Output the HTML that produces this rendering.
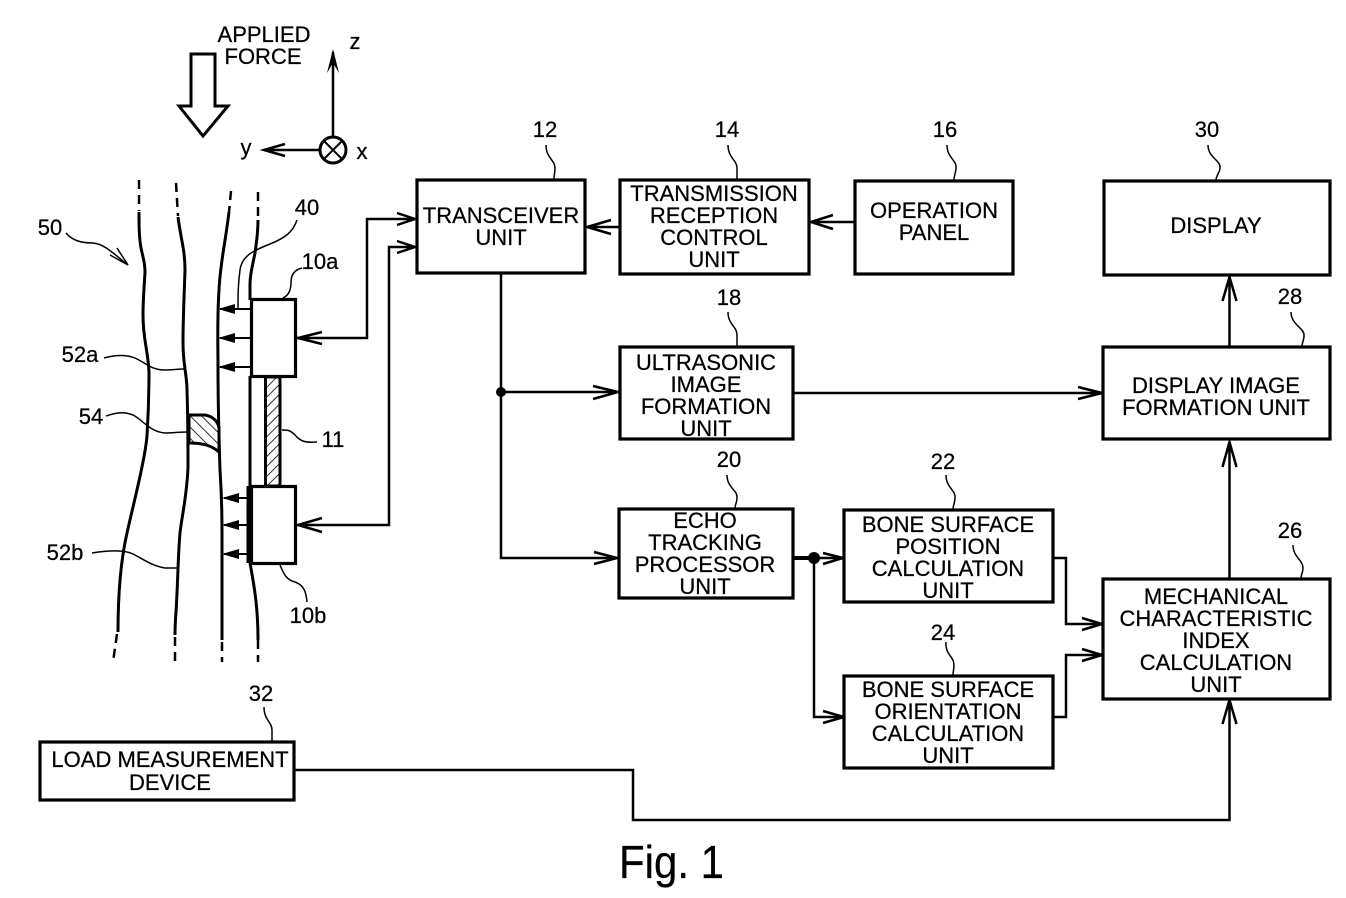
<!DOCTYPE html>
<html><head><meta charset="utf-8"><style>
html,body{margin:0;padding:0;background:#fff}
svg{display:block}
text{font-family:"Liberation Sans",sans-serif;fill:#000;stroke:#000;stroke-width:.25}
.t{font-size:22px;text-anchor:middle}
.n{font-size:22px;text-anchor:middle}
.b{fill:#fff;stroke:#000;stroke-width:3.2}
.l{fill:none;stroke:#000;stroke-width:2.5}
.h{fill:none;stroke:#000;stroke-width:1.5}
.s{fill:none;stroke:#000;stroke-width:3}
.d{fill:none;stroke:#000;stroke-width:2.5;stroke-dasharray:9 6}
</style></head><body>
<svg width="1346" height="898" viewBox="0 0 1346 898" xmlns="http://www.w3.org/2000/svg">
<defs>
<pattern id="p1" width="7" height="7" patternUnits="userSpaceOnUse" patternTransform="rotate(45)"><rect width="7" height="7" fill="#fff"/><line x1="0" y1="0" x2="0" y2="7" stroke="#000" stroke-width="1.600"/></pattern>
<pattern id="p2" width="8" height="8" patternUnits="userSpaceOnUse" patternTransform="rotate(-45)"><rect width="8" height="8" fill="#fff"/><line x1="0" y1="0" x2="0" y2="8" stroke="#000" stroke-width="1.600"/></pattern>
</defs>

<!-- tissue lines -->
<path class="d" d="M139 180V211"/>
<path class="s" d="M139 212C139 225 139 237 141 248C143 258 145 262 145 272C144 290 143 300 143 315C143 340 148 350 149 372C149 395 148 420 147 436C145 460 132 510 127 533C122 555 118 585 118 632"/>
<path class="d" d="M117 634L113 662"/>
<path class="d" d="M176 183L178 216"/>
<path class="s" d="M178 217C181 240 185 250 185 270C184 300 183 320 183 343C183 365 187 375 187 390C188 420 188 445 188 467C187 495 182 515 180 533C178 555 178 580 176 612C175 625 175 630 175 635"/>
<path class="d" d="M175 637V662"/>
<path class="d" d="M231 191L229 212"/>
<path class="s" d="M229 212C225 245 220 265 219 290C217 320 218 345 218 367C218 400 219 440 220 470C222 500 222 520 222 533C222 570 222 610 222 640"/>
<path class="d" d="M222 642V662"/>
<path class="d" d="M258 192V220"/>
<path class="s" d="M258 220C258 235 256 245 255 253C252 268 250 275 250 285V300"/>
<path class="s" d="M250 376V486M250 563C255 590 258 610 258 640"/>
<path class="d" d="M258 640V662"/>
<path class="s" d="M249 486V563" style="stroke-width:5"/>

<!-- boxes and bar -->
<rect x="265.500" y="377" width="14.500" height="109" fill="url(#p1)" stroke="#000" stroke-width="3"/>
<rect class="b" x="251.500" y="299.500" width="44" height="77"/>
<rect class="b" x="251.500" y="486.500" width="44" height="77"/>

<!-- lump -->
<path d="M189 415H205C212 416 218 421 219 428V452C212 446 204 443 189 443Z" fill="url(#p2)" stroke="#000" stroke-width="3"/>

<!-- wave arrows -->
<path class="l" d="M250 309H220M250 338H220M250 367H220M250 498H224M250 525H224M250 554H224" style="stroke-width:2"/>
<path d="M218 309L235 304V314ZM218 338L235 333V343ZM218 367L235 362V372ZM222 498L239 493V503ZM222 525L239 520V530ZM222 554L239 549V559Z"/>

<!-- applied force arrow -->
<path d="M191 54H215V106H228L203 136L179 106H191Z" fill="#fff" stroke="#000" stroke-width="3"/>

<!-- axes -->
<path class="l" d="M333 138V52"/>
<path d="M333 49L327 73L333 63L339 73Z"/>
<circle cx="333" cy="150" r="13" fill="#fff" stroke="#000" stroke-width="3"/>
<path d="M324 141L342 159M342 141L324 159" class="l" style="stroke-width:2"/>
<path class="l" d="M320 150H265M285 144L264 150L285 156"/>

<!-- connectors -->
<g class="l">
<path d="M296 338H367V219H415M322 332L298 338L322 344M397 213L415 219L397 225"/>
<path d="M296 525H389V247H415M322 518L298 525L322 532M397 241L415 247L397 253"/>
<path d="M619 227H587M611 220L587 227L611 234"/>
<path d="M855 222H811M833 215L811 222L833 229"/>
<path d="M501 274V558H617M594 552L617 558L594 564"/>
<path d="M501 392H618M593 386L618 392L593 399"/>
<path d="M794 393H1102M1078 387L1102 393L1078 399"/>
<path d="M1229.500 347V277M1222.500 301L1229.500 277L1236.500 301"/>
<path d="M1229.500 578V442M1222.500 467L1229.500 442L1236.500 467"/>
<path d="M793 558H843M823 553L843 558L823 564" />
<path d="M814 558V717H844M823 711L844 717L823 723"/>
<path d="M1053 558H1066V624H1102M1082 618L1102 624L1082 630"/>
<path d="M1054 717H1066V655H1102M1082 649L1102 655L1082 661"/>
<path d="M294 770H633V820H1229.500V700M1222.500 724L1229.500 700L1236.500 724"/>
</g>
<path d="M793 558H814" stroke="#000" stroke-width="4"/>
<circle cx="501" cy="392" r="5"/>
<circle cx="814" cy="558" r="6"/>

<!-- blocks -->
<g class="b">
<rect x="417" y="180" width="168" height="93"/>
<rect x="620" y="180" width="189" height="94"/>
<rect x="855" y="181" width="158" height="93"/>
<rect x="1104" y="181" width="226" height="94"/>
<rect x="1103" y="347" width="227" height="92"/>
<rect x="620" y="347" width="173" height="92"/>
<rect x="619" y="509" width="174" height="89"/>
<rect x="844" y="510" width="209" height="92"/>
<rect x="844" y="676" width="209" height="92"/>
<rect x="1103" y="579" width="227" height="120"/>
<rect x="40" y="742" width="254" height="58"/>
</g>

<!-- block text -->
<g class="t">
<text x="501" y="223">TRANSCEIVER</text><text x="501" y="245">UNIT</text>
<text x="714" y="201">TRANSMISSION</text><text x="714" y="223">RECEPTION</text><text x="714" y="245">CONTROL</text><text x="714" y="267">UNIT</text>
<text x="934" y="218">OPERATION</text><text x="934" y="240">PANEL</text>
<text x="1216" y="233">DISPLAY</text>
<text x="1216" y="393">DISPLAY IMAGE</text><text x="1216" y="415">FORMATION UNIT</text>
<text x="706" y="370">ULTRASONIC</text><text x="706" y="392">IMAGE</text><text x="706" y="414">FORMATION</text><text x="706" y="436">UNIT</text>
<text x="705" y="528">ECHO</text><text x="705" y="550">TRACKING</text><text x="705" y="572">PROCESSOR</text><text x="705" y="594">UNIT</text>
<text x="948" y="532">BONE SURFACE</text><text x="948" y="554">POSITION</text><text x="948" y="576">CALCULATION</text><text x="948" y="598">UNIT</text>
<text x="948" y="697">BONE SURFACE</text><text x="948" y="719">ORIENTATION</text><text x="948" y="741">CALCULATION</text><text x="948" y="763">UNIT</text>
<text x="1216" y="604">MECHANICAL</text><text x="1216" y="626">CHARACTERISTIC</text><text x="1216" y="648">INDEX</text><text x="1216" y="670">CALCULATION</text><text x="1216" y="692">UNIT</text>
<text x="170" y="767">LOAD MEASUREMENT</text><text x="170" y="790">DEVICE</text>
<text x="264" y="42">APPLIED</text><text x="263" y="64">FORCE</text>
</g>

<!-- reference numbers -->
<g class="n">
<text x="545" y="137">12</text><text x="727" y="137">14</text><text x="945" y="137">16</text><text x="1207" y="137">30</text>
<text x="1290" y="304">28</text><text x="729" y="305">18</text><text x="729" y="467">20</text><text x="943" y="469">22</text>
<text x="1290" y="538">26</text><text x="943" y="640">24</text><text x="261" y="701">32</text>
<text x="307" y="215">40</text><text x="320" y="269">10a</text><text x="333" y="447">11</text><text x="308" y="623">10b</text>
<text x="50" y="235">50</text><text x="80" y="362">52a</text><text x="91" y="424">54</text><text x="65" y="560">52b</text>
<text x="355" y="49">z</text><text x="246" y="155">y</text><text x="362" y="159">x</text>
</g>
<text x="619" y="878" textLength="105" lengthAdjust="spacingAndGlyphs" style="font-size:46px">Fig. 1</text>

<!-- leaders -->
<g class="h">
<path d="M546 145C546 158 555 160 555 168C555 172 554 175 554 179"/>
<path d="M728 145C728 158 737 160 737 168C737 172 737 175 737 179"/>
<path d="M947 145C947 158 957 160 956 168C956 172 954 176 954 180"/>
<path d="M1208 145C1208 158 1221 160 1220 168C1220 172 1216 176 1216 180"/>
<path d="M1291 312C1291 325 1305 328 1304 336C1304 340 1302 343 1302 346"/>
<path d="M728 312C728 325 737 326 737 335C737 339 737 342 737 346"/>
<path d="M727 475C727 488 738 490 737 498C737 502 735 505 735 508"/>
<path d="M946 475C946 488 956 490 955 498C955 502 953 506 953 509"/>
<path d="M1293 545C1293 557 1303 560 1303 568C1303 572 1301 575 1301 578"/>
<path d="M946 642C945 655 954 656 954 665C954 669 953 672 953 675"/>
<path d="M264 707C264 720 272 722 272 730C272 735 272 738 272 741"/>
<path d="M297 220C293 232 285 238 270 244C255 250 242 255 240 270C238 285 238 295 238 309"/>
<path d="M302 268C294 270 291 275 291 282C291 290 289 295 283 298"/>
<path d="M317 442C305 443 300 441 295 435C290 430 288 430 282 430"/>
<path d="M307 602C306 590 303 585 295 582C287 580 284 575 280 565"/>
<path d="M66 233C72 240 80 243 93 243C105 244 115 255 128 265M117 248L128 265L110 255"/>
<path d="M104 358C115 355 127 354 137 359C147 364 152 370 165 370C172 370 178 369 185 369"/>
<path d="M106 416C115 413 123 411 133 415C143 420 150 432 165 433C172 433 180 432 188 432"/>
<path d="M92 553C105 551 123 549 133 554C143 559 152 566 165 568H178"/>
</g>
</svg>
</body></html>
